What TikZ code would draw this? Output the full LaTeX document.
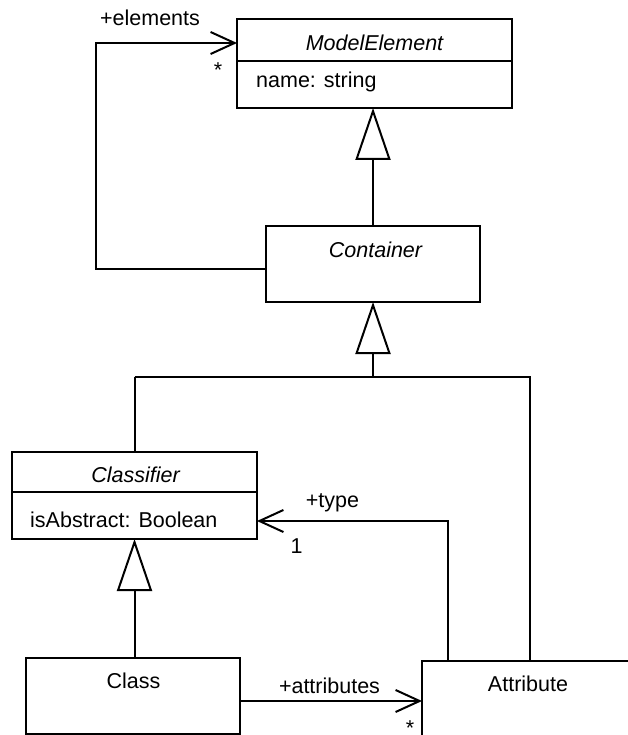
\documentclass[tikz,border=0pt]{standalone}
\usepackage{fontspec}
\setmainfont{Liberation Sans}
\usetikzlibrary{arrows.meta}

\begin{document}
\begin{tikzpicture}[x=1pt,y=-1pt,
  every node/.style={font=\fontsize{21.5}{26}\selectfont},
  umlbox/.style={draw, line width=2pt, rectangle, inner sep=0pt, outer sep=0pt, anchor=north west},
  lbl/.style={inner sep=0pt, anchor=base},
  lbll/.style={inner sep=0pt, anchor=base west},
  line/.style={line width=2pt},
  gen/.style={line width=2pt, -{Triangle[length=52pt,width=35pt,fill=white]}},
  assoc/.style={line width=2pt, -{Straight Barb[length=24pt,width=22pt]}}
]
\useasboundingbox (0,0) rectangle (628,735);
\clip (0,0) rectangle (628,735);

% class boxes
\node[umlbox, minimum width=275pt, minimum height=89pt] (me) at (237,19) {};
\node[umlbox, minimum width=214pt, minimum height=76pt] (cont) at (266,226) {};
\node[umlbox, minimum width=245pt, minimum height=87pt] (clf) at (12,452) {};
\node[umlbox, minimum width=214pt, minimum height=76pt] (cls) at (26,658) {};
\node[umlbox, minimum width=212pt, minimum height=76pt] (attr) at (422,661) {};

% compartment dividers
\coordinate (mediv) at (0,61);
\coordinate (clfdiv) at (0,492);
\draw[line] (me.west |- mediv) -- (me.east |- mediv);
\draw[line] (clf.west |- clfdiv) -- (clf.east |- clfdiv);

% class names and attributes
\node[lbl] (menm) at (374.5,51) {\itshape ModelElement};
\node[lbll] (meat) at (256,88) {name: string};
\node[lbl] (contnm) at (375.5,257) {\itshape Container};
\node[lbl] (clfnm) at (135.5,482) {\itshape Classifier};
\node[lbll] (clfat) at (30,527) {isAbstract: Boolean};
\node[lbl] (clsnm) at (133.5,688) {Class};
\node[lbl] (attrnm) at (528,691) {Attribute};

% generalizations
\coordinate (hub) at (373,377);
\coordinate (gx) at (530,0);
\draw[gen] (cont.north) -- (cont.north |- me.south);
\draw[gen] (hub) -- (cont.south);
\draw[line] (clf.north |- hub) -- (hub) -- (gx |- hub) -- (gx |- attr.north);
\draw[line] (clf.north) -- (clf.north |- hub);
\draw[gen] (clf.south |- cls.north) -- (clf.south);

% association: container elements
\coordinate (lx) at (96,0);
\coordinate (ey1) at (0,269);
\coordinate (ey2) at (0,43);
\draw[assoc] (cont.west |- ey1) -- (lx |- ey1) -- (lx |- ey2) -- (me.west |- ey2);
\node[lbl] (elem) at (150,26) {+elements};
\node[lbl] (elemm) at (218,78) {*};

% association: attribute type
\coordinate (tx) at (448,0);
\coordinate (ty) at (0,521);
\draw[assoc] (tx |- attr.north) -- (tx |- ty) -- (clf.east |- ty);
\node[lbl] (typ) at (332.5,507) {+type};
\node[lbl] (typm) at (296.5,553) {1};

% association: class attributes
\coordinate (ay) at (0,701);
\draw[assoc] (cls.east |- ay) -- (attr.west |- ay);
\node[lbl] (atts) at (329.5,693) {+attributes};
\node[lbl] (attsm) at (410,735) {*};
\end{tikzpicture}
\end{document}
